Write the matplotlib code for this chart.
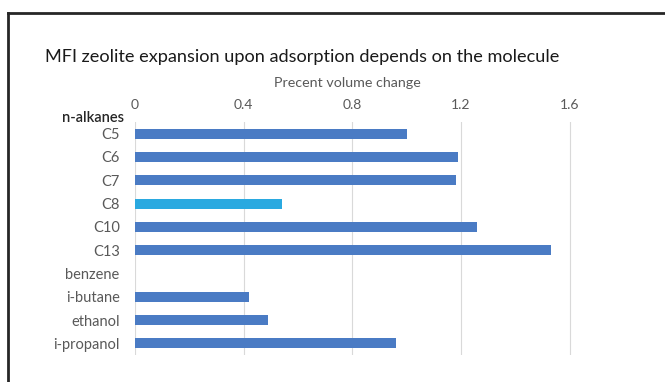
import numpy as np
import matplotlib
matplotlib.use("Agg")
import matplotlib.pyplot as plt
from matplotlib.lines import Line2D

plt.rcParams['font.family'] = ['Lato', 'DejaVu Sans']

molecules = ["C5", "C6", "C7", "C8", "C10", "C13", "benzene", "i-butane", "ethanol", "i-propanol"]
volume_change = [1.00, 1.19, 1.18, 0.54, 1.26, 1.53, 0.0, 0.42, 0.49, 0.96]
highlight = "C8"
ticks = [0, 0.4, 0.8, 1.2, 1.6]
tick_labels = ["0", "0.4", "0.8", "1.2", "1.6"]

W, H = 665, 382
fig = plt.figure(figsize=(W / 100, H / 100), dpi=100)

# axes placed in pixel terms
left, right, top, bottom = 135, 624, 122, 355
ax = fig.add_axes([left / W, 1 - bottom / H, (right - left) / W, (bottom - top) / H])

blue = "#4a7bc4"
light = "#2aa9e0"
colors = [light if m == highlight else blue for m in molecules]
y = np.arange(len(molecules))
ax.barh(y, volume_change, height=0.43, color=colors, zorder=3)

ax.set_xlim(0, 1.8)
ax.set_ylim(len(molecules) - 0.5, -0.5)
ax.set_xticks(ticks)
ax.set_xticklabels(tick_labels)
ax.set_yticks(y)
ax.set_yticklabels(molecules)
ax.xaxis.tick_top()
ax.tick_params(axis='x', length=0, pad=8, labelsize=10, labelcolor="#595959")
ax.tick_params(axis='y', length=0, pad=11, labelsize=10.5, labelcolor="#595959")
ax.grid(axis='x', color="#d9d9d9", linewidth=0.8, zorder=0)
for s in ax.spines.values():
    s.set_visible(False)

fig.text(45 / W, 1 - 57 / H, "MFI zeolite expansion upon adsorption depends on the molecule",
         fontsize=13.1, color="#1a1a1a", va="center", ha="left")
fig.text(347 / W, 1 - 83 / H, "Precent volume change", fontsize=10.3, color="#595959",
         va="center", ha="center")
fig.text(124 / W, 1 - 118 / H, "n-alkanes", fontsize=10.5, color="#262626",
         fontweight="semibold", va="center", ha="right")

# frame (top and left edges only visible)
fig.add_artist(Line2D([8 / W, 1], [1 - 13 / H, 1 - 13 / H], color="#262626", linewidth=2))
fig.add_artist(Line2D([8 / W, 8 / W], [0, 1 - 13 / H], color="#262626", linewidth=2))

fig.savefig("out.png", dpi=100)
